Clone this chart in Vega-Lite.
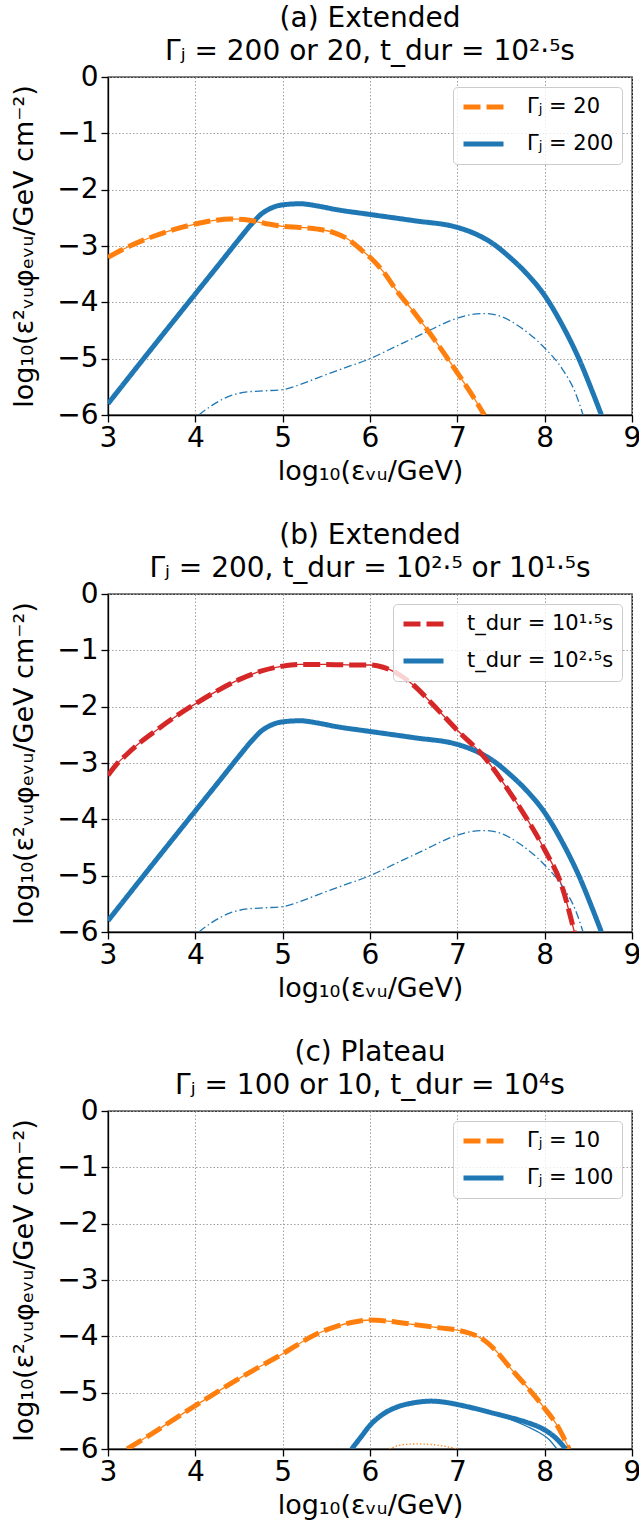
{
  "$schema": "https://vega.github.io/schema/vega-lite/v6.json",
  "padding": {"left": 10, "top": 4, "right": 5, "bottom": 5},
  "background": "white",
  "config": {
    "font": "DejaVu Sans",
    "view": {"stroke": "black", "strokeWidth": 1.3},
    "axis": {"labelFont": "DejaVu Sans", "labelFontSize": 28, "labelColor": "black", "titleFont": "DejaVu Sans", "titleFontSize": 27, "titleFontWeight": "normal", "titleColor": "black", "domainColor": "black", "domainWidth": 1.3, "tickColor": "black", "tickWidth": 1.3, "tickSize": 7, "labelPadding": 3, "gridColor": "#a0a0a0", "gridDash": [1.5, 2], "gridWidth": 1, "grid": true, "labelFlush": false},
    "axisX": {"labelPadding": 2, "titlePadding": 6},
    "axisY": {"titlePadding": 18},
    "title": {"font": "DejaVu Sans", "fontSize": 28, "fontWeight": "normal", "color": "black", "lineHeight": 33, "offset": -3, "anchor": "middle", "frame": "group"},
    "legend": {"orient": "top-right", "offset": 10, "padding": 8, "strokeColor": "#cccccc", "fillColor": "rgba(255,255,255,0.8)", "cornerRadius": 4, "labelFont": "DejaVu Sans", "labelFontSize": 21, "labelColor": "black", "symbolType": "stroke", "symbolSize": 1600, "symbolStrokeWidth": 5, "labelOffset": 21, "clipHeight": 24, "rowPadding": 13},
    "concat": {"spacing": 36}
  },
  "datasets": {
    "a": [
      {"s": "Γⱼ = 200", "x": 3, "y": -5.8}, {"s": "Γⱼ = 200", "x": 3.5, "y": -4.82}, {"s": "Γⱼ = 200", "x": 4, "y": -3.85}, {"s": "Γⱼ = 200", "x": 4.3, "y": -3.27}, {"s": "Γⱼ = 200", "x": 4.5, "y": -2.88}, {"s": "Γⱼ = 200", "x": 4.65, "y": -2.6}, {"s": "Γⱼ = 200", "x": 4.75, "y": -2.44}, {"s": "Γⱼ = 200", "x": 4.85, "y": -2.34}, {"s": "Γⱼ = 200", "x": 5, "y": -2.27}, {"s": "Γⱼ = 200", "x": 5.2, "y": -2.25}, {"s": "Γⱼ = 200", "x": 5.4, "y": -2.29}, {"s": "Γⱼ = 200", "x": 5.6, "y": -2.35}, {"s": "Γⱼ = 200", "x": 6, "y": -2.44}, {"s": "Γⱼ = 200", "x": 6.5, "y": -2.55}, {"s": "Γⱼ = 200", "x": 7, "y": -2.67}, {"s": "Γⱼ = 200", "x": 7.2, "y": -2.78}, {"s": "Γⱼ = 200", "x": 7.4, "y": -2.95}, {"s": "Γⱼ = 200", "x": 7.6, "y": -3.2}, {"s": "Γⱼ = 200", "x": 7.8, "y": -3.5}, {"s": "Γⱼ = 200", "x": 8, "y": -3.88}, {"s": "Γⱼ = 200", "x": 8.2, "y": -4.4}, {"s": "Γⱼ = 200", "x": 8.4, "y": -5.03}, {"s": "Γⱼ = 200", "x": 8.55, "y": -5.6}, {"s": "Γⱼ = 200", "x": 8.65, "y": -6},
      {"s": "Γⱼ = 20", "x": 3, "y": -3.2}, {"s": "Γⱼ = 20", "x": 3.25, "y": -3.0}, {"s": "Γⱼ = 20", "x": 3.5, "y": -2.84}, {"s": "Γⱼ = 20", "x": 3.75, "y": -2.71}, {"s": "Γⱼ = 20", "x": 4, "y": -2.61}, {"s": "Γⱼ = 20", "x": 4.2, "y": -2.55}, {"s": "Γⱼ = 20", "x": 4.4, "y": -2.52}, {"s": "Γⱼ = 20", "x": 4.6, "y": -2.54}, {"s": "Γⱼ = 20", "x": 4.8, "y": -2.6}, {"s": "Γⱼ = 20", "x": 5, "y": -2.65}, {"s": "Γⱼ = 20", "x": 5.2, "y": -2.67}, {"s": "Γⱼ = 20", "x": 5.4, "y": -2.7}, {"s": "Γⱼ = 20", "x": 5.6, "y": -2.77}, {"s": "Γⱼ = 20", "x": 5.75, "y": -2.88}, {"s": "Γⱼ = 20", "x": 5.9, "y": -3.07}, {"s": "Γⱼ = 20", "x": 6, "y": -3.2}, {"s": "Γⱼ = 20", "x": 6.15, "y": -3.45}, {"s": "Γⱼ = 20", "x": 6.3, "y": -3.78}, {"s": "Γⱼ = 20", "x": 6.5, "y": -4.17}, {"s": "Γⱼ = 20", "x": 6.7, "y": -4.58}, {"s": "Γⱼ = 20", "x": 7, "y": -5.25}, {"s": "Γⱼ = 20", "x": 7.15, "y": -5.6}, {"s": "Γⱼ = 20", "x": 7.31, "y": -6},
      {"s": "comp", "x": 4.04, "y": -6}, {"s": "comp", "x": 4.2, "y": -5.82}, {"s": "comp", "x": 4.4, "y": -5.66}, {"s": "comp", "x": 4.6, "y": -5.59}, {"s": "comp", "x": 4.8, "y": -5.57}, {"s": "comp", "x": 5, "y": -5.55}, {"s": "comp", "x": 5.2, "y": -5.46}, {"s": "comp", "x": 5.4, "y": -5.34}, {"s": "comp", "x": 5.7, "y": -5.17}, {"s": "comp", "x": 6, "y": -5}, {"s": "comp", "x": 6.3, "y": -4.78}, {"s": "comp", "x": 6.6, "y": -4.56}, {"s": "comp", "x": 7, "y": -4.28}, {"s": "comp", "x": 7.15, "y": -4.22}, {"s": "comp", "x": 7.31, "y": -4.2}, {"s": "comp", "x": 7.5, "y": -4.25}, {"s": "comp", "x": 7.7, "y": -4.42}, {"s": "comp", "x": 8, "y": -4.81}, {"s": "comp", "x": 8.2, "y": -5.18}, {"s": "comp", "x": 8.35, "y": -5.6}, {"s": "comp", "x": 8.44, "y": -6}
    ],
    "b": [
      {"s": "t_dur = 10²·⁵s", "x": 3, "y": -5.8}, {"s": "t_dur = 10²·⁵s", "x": 3.5, "y": -4.82}, {"s": "t_dur = 10²·⁵s", "x": 4, "y": -3.85}, {"s": "t_dur = 10²·⁵s", "x": 4.3, "y": -3.27}, {"s": "t_dur = 10²·⁵s", "x": 4.5, "y": -2.88}, {"s": "t_dur = 10²·⁵s", "x": 4.65, "y": -2.6}, {"s": "t_dur = 10²·⁵s", "x": 4.75, "y": -2.44}, {"s": "t_dur = 10²·⁵s", "x": 4.85, "y": -2.34}, {"s": "t_dur = 10²·⁵s", "x": 5, "y": -2.27}, {"s": "t_dur = 10²·⁵s", "x": 5.2, "y": -2.25}, {"s": "t_dur = 10²·⁵s", "x": 5.4, "y": -2.29}, {"s": "t_dur = 10²·⁵s", "x": 5.6, "y": -2.35}, {"s": "t_dur = 10²·⁵s", "x": 6, "y": -2.44}, {"s": "t_dur = 10²·⁵s", "x": 6.5, "y": -2.55}, {"s": "t_dur = 10²·⁵s", "x": 7, "y": -2.67}, {"s": "t_dur = 10²·⁵s", "x": 7.2, "y": -2.78}, {"s": "t_dur = 10²·⁵s", "x": 7.4, "y": -2.95}, {"s": "t_dur = 10²·⁵s", "x": 7.6, "y": -3.2}, {"s": "t_dur = 10²·⁵s", "x": 7.8, "y": -3.5}, {"s": "t_dur = 10²·⁵s", "x": 8, "y": -3.88}, {"s": "t_dur = 10²·⁵s", "x": 8.2, "y": -4.4}, {"s": "t_dur = 10²·⁵s", "x": 8.4, "y": -5.03}, {"s": "t_dur = 10²·⁵s", "x": 8.55, "y": -5.6}, {"s": "t_dur = 10²·⁵s", "x": 8.65, "y": -6},
      {"s": "t_dur = 10¹·⁵s", "x": 3, "y": -3.22}, {"s": "t_dur = 10¹·⁵s", "x": 3.1, "y": -3.02}, {"s": "t_dur = 10¹·⁵s", "x": 3.22, "y": -2.84}, {"s": "t_dur = 10¹·⁵s", "x": 3.35, "y": -2.66}, {"s": "t_dur = 10¹·⁵s", "x": 3.5, "y": -2.48}, {"s": "t_dur = 10¹·⁵s", "x": 3.75, "y": -2.2}, {"s": "t_dur = 10¹·⁵s", "x": 4, "y": -1.95}, {"s": "t_dur = 10¹·⁵s", "x": 4.25, "y": -1.72}, {"s": "t_dur = 10¹·⁵s", "x": 4.5, "y": -1.52}, {"s": "t_dur = 10¹·⁵s", "x": 4.75, "y": -1.37}, {"s": "t_dur = 10¹·⁵s", "x": 5, "y": -1.28}, {"s": "t_dur = 10¹·⁵s", "x": 5.2, "y": -1.25}, {"s": "t_dur = 10¹·⁵s", "x": 5.5, "y": -1.25}, {"s": "t_dur = 10¹·⁵s", "x": 5.8, "y": -1.26}, {"s": "t_dur = 10¹·⁵s", "x": 6, "y": -1.26}, {"s": "t_dur = 10¹·⁵s", "x": 6.15, "y": -1.3}, {"s": "t_dur = 10¹·⁵s", "x": 6.3, "y": -1.4}, {"s": "t_dur = 10¹·⁵s", "x": 6.5, "y": -1.62}, {"s": "t_dur = 10¹·⁵s", "x": 6.7, "y": -1.93}, {"s": "t_dur = 10¹·⁵s", "x": 7, "y": -2.42}, {"s": "t_dur = 10¹·⁵s", "x": 7.3, "y": -2.88}, {"s": "t_dur = 10¹·⁵s", "x": 7.6, "y": -3.52}, {"s": "t_dur = 10¹·⁵s", "x": 7.8, "y": -4.0}, {"s": "t_dur = 10¹·⁵s", "x": 8, "y": -4.54}, {"s": "t_dur = 10¹·⁵s", "x": 8.2, "y": -5.2}, {"s": "t_dur = 10¹·⁵s", "x": 8.34, "y": -6},
      {"s": "comp", "x": 4.04, "y": -6}, {"s": "comp", "x": 4.2, "y": -5.82}, {"s": "comp", "x": 4.4, "y": -5.66}, {"s": "comp", "x": 4.6, "y": -5.59}, {"s": "comp", "x": 4.8, "y": -5.57}, {"s": "comp", "x": 5, "y": -5.55}, {"s": "comp", "x": 5.2, "y": -5.46}, {"s": "comp", "x": 5.4, "y": -5.34}, {"s": "comp", "x": 5.7, "y": -5.17}, {"s": "comp", "x": 6, "y": -5}, {"s": "comp", "x": 6.3, "y": -4.78}, {"s": "comp", "x": 6.6, "y": -4.56}, {"s": "comp", "x": 7, "y": -4.28}, {"s": "comp", "x": 7.15, "y": -4.22}, {"s": "comp", "x": 7.31, "y": -4.2}, {"s": "comp", "x": 7.5, "y": -4.25}, {"s": "comp", "x": 7.7, "y": -4.42}, {"s": "comp", "x": 8, "y": -4.81}, {"s": "comp", "x": 8.2, "y": -5.18}, {"s": "comp", "x": 8.35, "y": -5.6}, {"s": "comp", "x": 8.44, "y": -6}
    ],
    "c": [
      {"s": "Γⱼ = 10", "x": 3.22, "y": -6}, {"s": "Γⱼ = 10", "x": 3.5, "y": -5.73}, {"s": "Γⱼ = 10", "x": 4, "y": -5.23}, {"s": "Γⱼ = 10", "x": 4.5, "y": -4.75}, {"s": "Γⱼ = 10", "x": 5, "y": -4.31}, {"s": "Γⱼ = 10", "x": 5.4, "y": -3.95}, {"s": "Γⱼ = 10", "x": 5.6, "y": -3.83}, {"s": "Γⱼ = 10", "x": 5.8, "y": -3.75}, {"s": "Γⱼ = 10", "x": 6, "y": -3.71}, {"s": "Γⱼ = 10", "x": 6.2, "y": -3.73}, {"s": "Γⱼ = 10", "x": 6.5, "y": -3.79}, {"s": "Γⱼ = 10", "x": 6.8, "y": -3.85}, {"s": "Γⱼ = 10", "x": 7, "y": -3.89}, {"s": "Γⱼ = 10", "x": 7.15, "y": -3.95}, {"s": "Γⱼ = 10", "x": 7.3, "y": -4.06}, {"s": "Γⱼ = 10", "x": 7.45, "y": -4.27}, {"s": "Γⱼ = 10", "x": 7.6, "y": -4.55}, {"s": "Γⱼ = 10", "x": 7.8, "y": -4.9}, {"s": "Γⱼ = 10", "x": 8, "y": -5.28}, {"s": "Γⱼ = 10", "x": 8.15, "y": -5.6}, {"s": "Γⱼ = 10", "x": 8.28, "y": -6},
      {"s": "Γⱼ = 100", "x": 5.79, "y": -6}, {"s": "Γⱼ = 100", "x": 5.9, "y": -5.78}, {"s": "Γⱼ = 100", "x": 6, "y": -5.58}, {"s": "Γⱼ = 100", "x": 6.15, "y": -5.38}, {"s": "Γⱼ = 100", "x": 6.3, "y": -5.26}, {"s": "Γⱼ = 100", "x": 6.5, "y": -5.18}, {"s": "Γⱼ = 100", "x": 6.7, "y": -5.15}, {"s": "Γⱼ = 100", "x": 6.9, "y": -5.18}, {"s": "Γⱼ = 100", "x": 7, "y": -5.21}, {"s": "Γⱼ = 100", "x": 7.2, "y": -5.28}, {"s": "Γⱼ = 100", "x": 7.4, "y": -5.36}, {"s": "Γⱼ = 100", "x": 7.6, "y": -5.44}, {"s": "Γⱼ = 100", "x": 7.8, "y": -5.53}, {"s": "Γⱼ = 100", "x": 7.95, "y": -5.62}, {"s": "Γⱼ = 100", "x": 8.05, "y": -5.71}, {"s": "Γⱼ = 100", "x": 8.15, "y": -5.84}, {"s": "Γⱼ = 100", "x": 8.24, "y": -6},
      {"s": "thin100", "x": 5.79, "y": -6}, {"s": "thin100", "x": 5.9, "y": -5.78}, {"s": "thin100", "x": 6, "y": -5.58}, {"s": "thin100", "x": 6.15, "y": -5.38}, {"s": "thin100", "x": 6.3, "y": -5.26}, {"s": "thin100", "x": 6.5, "y": -5.18}, {"s": "thin100", "x": 6.7, "y": -5.15}, {"s": "thin100", "x": 6.9, "y": -5.18}, {"s": "thin100", "x": 7, "y": -5.21}, {"s": "thin100", "x": 7.2, "y": -5.28}, {"s": "thin100", "x": 7.4, "y": -5.37}, {"s": "thin100", "x": 7.6, "y": -5.47}, {"s": "thin100", "x": 7.8, "y": -5.6}, {"s": "thin100", "x": 7.95, "y": -5.72}, {"s": "thin100", "x": 8.05, "y": -5.83}, {"s": "thin100", "x": 8.14, "y": -6},
      {"s": "dot10", "x": 6.22, "y": -6}, {"s": "dot10", "x": 6.3, "y": -5.95}, {"s": "dot10", "x": 6.4, "y": -5.92}, {"s": "dot10", "x": 6.55, "y": -5.91}, {"s": "dot10", "x": 6.7, "y": -5.92}, {"s": "dot10", "x": 6.85, "y": -5.95}, {"s": "dot10", "x": 6.95, "y": -5.98}, {"s": "dot10", "x": 7.0, "y": -6}
    ]
  },
  "resolve": {"scale": {"color": "independent", "strokeDash": "independent"}, "legend": {"color": "independent", "strokeDash": "independent"}},
  "vconcat": [
    {
      "title": {"text": ["(a) Extended", "Γⱼ = 200 or 20, t_dur = 10²·⁵s"]},
      "width": 524, "height": 338,
      "data": {"name": "a"},
      "encoding": {
        "x": {"field": "x", "type": "quantitative", "scale": {"domain": [3, 9], "nice": false, "zero": false}, "axis": {"values": [3, 4, 5, 6, 7, 8, 9], "format": "d", "title": "log₁₀(εᵥᵤ/GeV)"}},
        "y": {"field": "y", "type": "quantitative", "scale": {"domain": [-6, 0], "nice": false, "zero": false}, "axis": {"values": [-6, -5, -4, -3, -2, -1, 0], "format": "d", "title": "log₁₀(ε²ᵥᵤφₑᵥᵤ/GeV cm⁻²)"}}
      },
      "layer": [
        {"transform": [{"filter": {"field": "s", "equal": "Γⱼ = 20"}}], "mark": {"type": "line", "color": "#ff7f0e", "strokeWidth": 1.3, "interpolate": "monotone", "clip": true}},
        {"transform": [{"filter": {"field": "s", "equal": "comp"}}], "mark": {"type": "line", "color": "#1f77b4", "strokeWidth": 1.3, "strokeDash": [8, 3, 1.5, 3], "interpolate": "monotone", "clip": true}},
        {"transform": [{"filter": {"field": "s", "oneOf": ["Γⱼ = 20", "Γⱼ = 200"]}}], "mark": {"type": "line", "strokeWidth": 5, "interpolate": "monotone", "clip": true},
         "encoding": {
           "color": {"field": "s", "type": "nominal", "scale": {"domain": ["Γⱼ = 20", "Γⱼ = 200"], "range": ["#ff7f0e", "#1f77b4"]}, "legend": {"title": null}},
           "strokeDash": {"field": "s", "type": "nominal", "scale": {"domain": ["Γⱼ = 20", "Γⱼ = 200"], "range": [[17, 6], [1, 0]]}, "legend": {"title": null}}
         }}
      ]
    },
    {
      "title": {"text": ["(b) Extended", "Γⱼ = 200, t_dur = 10²·⁵ or 10¹·⁵s"]},
      "width": 524, "height": 338,
      "data": {"name": "b"},
      "encoding": {
        "x": {"field": "x", "type": "quantitative", "scale": {"domain": [3, 9], "nice": false, "zero": false}, "axis": {"values": [3, 4, 5, 6, 7, 8, 9], "format": "d", "title": "log₁₀(εᵥᵤ/GeV)"}},
        "y": {"field": "y", "type": "quantitative", "scale": {"domain": [-6, 0], "nice": false, "zero": false}, "axis": {"values": [-6, -5, -4, -3, -2, -1, 0], "format": "d", "title": "log₁₀(ε²ᵥᵤφₑᵥᵤ/GeV cm⁻²)"}}
      },
      "layer": [
        {"transform": [{"filter": {"field": "s", "equal": "t_dur = 10¹·⁵s"}}], "mark": {"type": "line", "color": "#d62728", "strokeWidth": 1.3, "interpolate": "monotone", "clip": true}},
        {"transform": [{"filter": {"field": "s", "equal": "comp"}}], "mark": {"type": "line", "color": "#1f77b4", "strokeWidth": 1.3, "strokeDash": [8, 3, 1.5, 3], "interpolate": "monotone", "clip": true}},
        {"transform": [{"filter": {"field": "s", "oneOf": ["t_dur = 10¹·⁵s", "t_dur = 10²·⁵s"]}}], "mark": {"type": "line", "strokeWidth": 5, "interpolate": "monotone", "clip": true},
         "encoding": {
           "color": {"field": "s", "type": "nominal", "scale": {"domain": ["t_dur = 10¹·⁵s", "t_dur = 10²·⁵s"], "range": ["#d62728", "#1f77b4"]}, "legend": {"title": null}},
           "strokeDash": {"field": "s", "type": "nominal", "scale": {"domain": ["t_dur = 10¹·⁵s", "t_dur = 10²·⁵s"], "range": [[17, 6], [1, 0]]}, "legend": {"title": null}}
         }}
      ]
    },
    {
      "title": {"text": ["(c) Plateau", "Γⱼ = 100 or 10, t_dur = 10⁴s"]},
      "width": 524, "height": 338,
      "data": {"name": "c"},
      "encoding": {
        "x": {"field": "x", "type": "quantitative", "scale": {"domain": [3, 9], "nice": false, "zero": false}, "axis": {"values": [3, 4, 5, 6, 7, 8, 9], "format": "d", "title": "log₁₀(εᵥᵤ/GeV)"}},
        "y": {"field": "y", "type": "quantitative", "scale": {"domain": [-6, 0], "nice": false, "zero": false}, "axis": {"values": [-6, -5, -4, -3, -2, -1, 0], "format": "d", "title": "log₁₀(ε²ᵥᵤφₑᵥᵤ/GeV cm⁻²)"}}
      },
      "layer": [
        {"transform": [{"filter": {"field": "s", "equal": "Γⱼ = 10"}}], "mark": {"type": "line", "color": "#ff7f0e", "strokeWidth": 1.3, "interpolate": "monotone", "clip": true}},
        {"transform": [{"filter": {"field": "s", "equal": "dot10"}}], "mark": {"type": "line", "color": "#ff7f0e", "strokeWidth": 1.3, "strokeDash": [1.3, 2.2], "interpolate": "monotone", "clip": true}},
        {"transform": [{"filter": {"field": "s", "equal": "thin100"}}], "mark": {"type": "line", "color": "#1f77b4", "strokeWidth": 1.3, "interpolate": "monotone", "clip": true}},
        {"transform": [{"filter": {"field": "s", "oneOf": ["Γⱼ = 10", "Γⱼ = 100"]}}], "mark": {"type": "line", "strokeWidth": 5, "interpolate": "monotone", "clip": true},
         "encoding": {
           "color": {"field": "s", "type": "nominal", "scale": {"domain": ["Γⱼ = 10", "Γⱼ = 100"], "range": ["#ff7f0e", "#1f77b4"]}, "legend": {"title": null}},
           "strokeDash": {"field": "s", "type": "nominal", "scale": {"domain": ["Γⱼ = 10", "Γⱼ = 100"], "range": [[17, 6], [1, 0]]}, "legend": {"title": null}}
         }}
      ]
    }
  ]
}
